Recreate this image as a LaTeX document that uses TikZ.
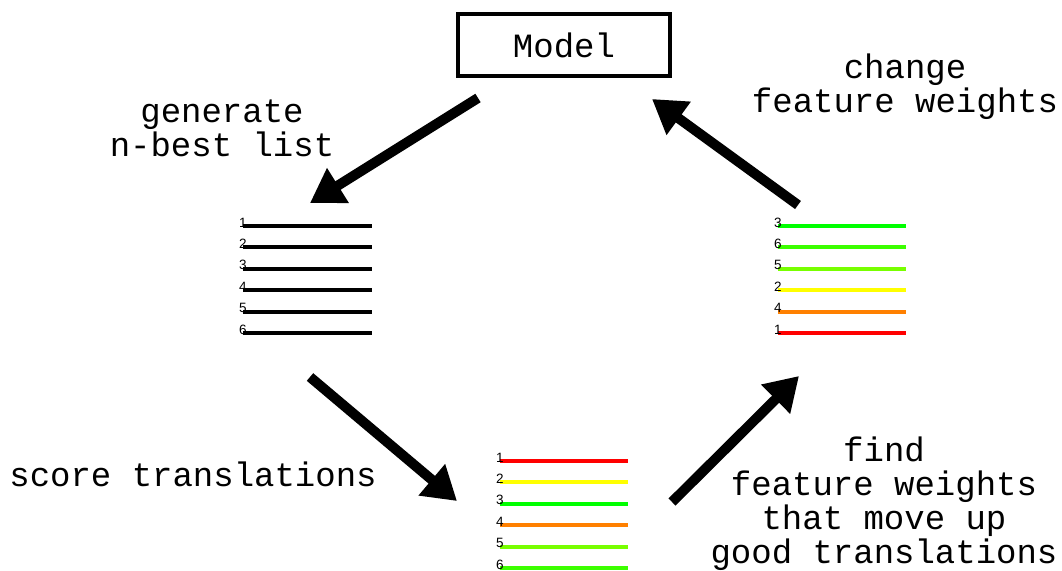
\documentclass[tikz,border=0pt]{standalone}
\usepackage{fontspec}
\setmonofont{Liberation Mono}
\setsansfont{Liberation Sans}
\usetikzlibrary{arrows.meta}

\definecolor{rankred}{RGB}{255,0,0}
\definecolor{rankorange}{RGB}{255,128,0}
\definecolor{rankyellow}{RGB}{255,255,0}
\definecolor{rankgreen}{RGB}{0,255,0}
\definecolor{rankgreenb}{RGB}{60,255,0}
\definecolor{ranklime}{RGB}{120,255,0}

\begin{document}
\begin{tikzpicture}[x=1pt,y=-1pt]
\tikzstyle{box} = [draw, line width=4pt, minimum width=212pt, minimum height=62pt,
font=\ttfamily\fontsize{34}{34}\selectfont]
\tikzstyle{label} = [align=center, inner sep=0pt, font=\ttfamily\fontsize{34}{34}\selectfont]
\tikzstyle{rank} = [line width=4pt]
\tikzstyle{num} = [anchor=base west, inner sep=0pt, font=\sffamily\fontsize{13.5}{13.5}\selectfont]
\tikzstyle{step_arrow} = [draw, line width=10pt, -{Triangle[length=33pt,width=39pt]}]

\useasboundingbox (0,0) rectangle (1062,570);

\node [box] (model) at (564,45) {Model};

% n-best list
\foreach \n [count=\i] in {1,2,3,4,5,6} {
  \draw [rank] (243,204.6+21.4*\i) -- (372,204.6+21.4*\i);
  \node [num] at (239,205.6+21.4*\i) {\n};
}
% scored list
\foreach \n/\c [count=\i] in {1/rankred,2/rankyellow,3/rankgreen,4/rankorange,5/ranklime,6/rankgreenb} {
  \draw [rank,\c] (500,439.6+21.4*\i) -- (628,439.6+21.4*\i);
  \node [num] at (496,440.6+21.4*\i) {\n};
}
% reranked list
\foreach \n/\c [count=\i] in {3/rankgreen,6/rankgreenb,5/ranklime,2/rankyellow,4/rankorange,1/rankred} {
  \draw [rank,\c] (778,204.6+21.4*\i) -- (906,204.6+21.4*\i);
  \node [num] at (774,205.6+21.4*\i) {\n};
}

\coordinate (gen_from) at (478,98);
\coordinate (gen_to) at (310,203);
\coordinate (score_from) at (310,377);
\coordinate (score_to) at (457,501);
\coordinate (find_from) at (672,502);
\coordinate (find_to) at (799,376);
\coordinate (change_from) at (798,205);
\coordinate (change_to) at (652,99);

\path [step_arrow] (gen_from) -- (gen_to);
\path [step_arrow] (score_from) -- (score_to);
\path [step_arrow] (find_from) -- (find_to);
\path [step_arrow] (change_from) -- (change_to);

\node [label] (gen) at (222,128) {generate\\n-best list};
\node [label] (score) at (193,474) {score translations};
\node [label] (find) at (884,504) {find\\feature weights\\that move up\\good translations};
\node [label] (change) at (905,87) {change\\feature weights};
\end{tikzpicture}
\end{document}
